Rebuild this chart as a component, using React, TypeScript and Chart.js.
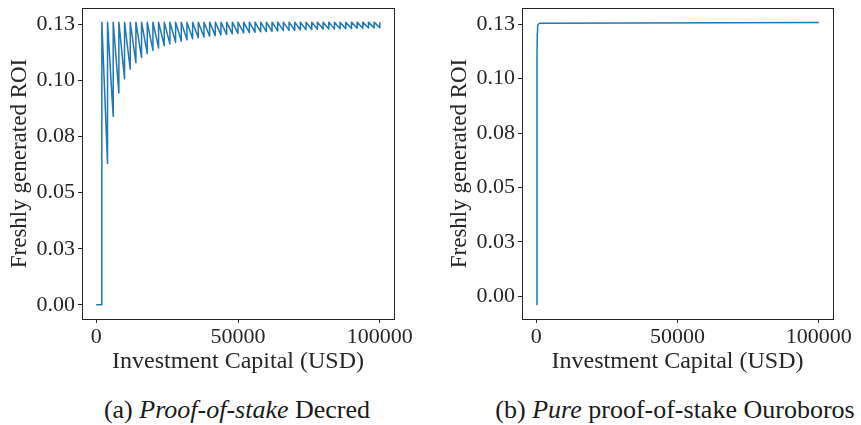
import React, { useEffect, useRef } from 'react';
import { Chart, registerables } from 'chart.js';

Chart.register(...registerables);

const FONT = "'Liberation Serif', 'Times New Roman', serif";

const xTicks = [0, 50000, 100000];
const xTickLabels = ['0', '50000', '100000'];
const yTicks = [0, 0.025, 0.05, 0.075, 0.1, 0.125];
const yTickLabels = ['0.00', '0.03', '0.05', '0.08', '0.10', '0.13'];

const xTitle = 'Investment Capital (USD)';
const yTitle = 'Freshly generated ROI';

// (a) Decred: capital levels at which one more ticket is bought
const decredTicketCapital = [
  2000, 4000, 6000, 8000, 10000, 12000, 14000, 16000, 18000, 20000,
  22000, 24000, 26000, 28000, 30000, 32000, 34000, 36000, 38000, 40000,
  42000, 44000, 46000, 48000, 50000, 52000, 54000, 56000, 58000, 60000,
  62000, 64000, 66000, 68000, 70000, 72000, 74000, 76000, 78000, 80000,
  82000, 84000, 86000, 88000, 90000, 92000, 94000, 96000, 98000, 100000,
];
const decredPeakROI = 0.126;
const decredStartROI = 0;
// ROI just before the next ticket threshold (bottom of each tooth)
const decredValleyROI = [
  0.063, 0.084, 0.0945, 0.1008, 0.105, 0.108, 0.1102, 0.112, 0.1134, 0.1145,
  0.1155, 0.1163, 0.117, 0.1176, 0.1181, 0.1186, 0.119, 0.1194, 0.1197, 0.12,
  0.1203, 0.1205, 0.1208, 0.121, 0.1212, 0.1213, 0.1215, 0.1217, 0.1218, 0.1219,
  0.1221, 0.1222, 0.1223, 0.1224, 0.1225, 0.1226, 0.1227, 0.1228, 0.1229, 0.1229,
  0.123, 0.1231, 0.1231, 0.1232, 0.1233, 0.1233, 0.1234, 0.1234, 0.1235,
];

// (b) Ouroboros
const ouroCapital = [200, 300, 400, 500, 700, 1200, 100000];
const ouroROI = [-0.004, 0.11, 0.121, 0.1238, 0.1249, 0.1255, 0.1258];

function buildDecred() {
  const pts: { x: number; y: number }[] = [];
  pts.push({ x: 0, y: decredStartROI });
  pts.push({ x: decredTicketCapital[0], y: decredStartROI });
  pts.push({ x: decredTicketCapital[0], y: decredPeakROI });
  for (let i = 1; i < decredTicketCapital.length; i++) {
    pts.push({ x: decredTicketCapital[i], y: decredValleyROI[i - 1] });
    pts.push({ x: decredTicketCapital[i], y: decredPeakROI });
  }
  return pts;
}

function buildOuro() {
  return ouroCapital.map((x, i) => ({ x, y: ouroROI[i] }));
}

const framePlugin = {
  id: 'frame',
  afterDraw(chart: any) {
    const { ctx, chartArea } = chart;
    ctx.save();
    ctx.strokeStyle = '#262626';
    ctx.lineWidth = 1;
    ctx.strokeRect(
      Math.round(chartArea.left) + 0.5,
      Math.round(chartArea.top) + 0.5,
      Math.round(chartArea.right - chartArea.left),
      Math.round(chartArea.bottom - chartArea.top)
    );
    ctx.restore();
  },
};

type PanelProps = {
  left: number;
  width: number;
  height: number;
  points: { x: number; y: number }[];
  yMin: number;
  yMax: number;
  yAxisWidth: number;
  padRight: number;
  yTitlePad: number;
};

function Panel(p: PanelProps) {
  const ref = useRef<HTMLCanvasElement>(null);
  useEffect(() => {
    if (!ref.current) return;
    const chart = new Chart(ref.current, {
      type: 'line',
      data: {
        datasets: [
          {
            data: p.points,
            borderColor: '#1f77b4',
            borderWidth: 1.5,
            pointRadius: 0,
            tension: 0,
            fill: false,
            borderJoinStyle: 'round',
          },
        ],
      },
      options: {
        responsive: false,
        animation: false,
        parsing: false,
        layout: { padding: { top: 8, right: p.padRight, left: 0, bottom: 0 } },
        plugins: { legend: { display: false }, tooltip: { enabled: false } },
        scales: {
          x: {
            type: 'linear',
            min: -5000,
            max: 105000,
            afterBuildTicks: (s: any) => {
              s.ticks = xTicks.map((v) => ({ value: v }));
            },
            afterFit: (s: any) => {
              s.height = 61;
              s.paddingLeft = 0;
              s.paddingRight = 0;
            },
            ticks: {
              autoSkip: false,
              maxRotation: 0,
              padding: 1,
              color: '#262626',
              font: { family: FONT, size: 22 },
              callback: (v: any) => xTickLabels[xTicks.indexOf(Number(v))],
            },
            grid: {
              display: true,
              drawOnChartArea: false,
              drawTicks: true,
              tickLength: 4,
              tickColor: '#262626',
            },
            border: { display: false },
            title: {
              display: true,
              text: xTitle,
              color: '#262626',
              font: { family: FONT, size: 24 },
              padding: { top: 0, bottom: 4 },
            },
          },
          y: {
            type: 'linear',
            min: p.yMin,
            max: p.yMax,
            afterBuildTicks: (s: any) => {
              s.ticks = yTicks.map((v) => ({ value: v }));
            },
            afterFit: (s: any) => {
              s.width = p.yAxisWidth;
              s.paddingTop = 0;
              s.paddingBottom = 0;
            },
            ticks: {
              autoSkip: false,
              padding: 3,
              color: '#262626',
              font: { family: FONT, size: 22 },
              callback: (v: any) => yTickLabels[yTicks.indexOf(Number(v))],
            },
            grid: {
              display: true,
              drawOnChartArea: false,
              drawTicks: true,
              tickLength: 4,
              tickColor: '#262626',
            },
            border: { display: false },
            title: {
              display: true,
              text: yTitle,
              color: '#262626',
              font: { family: FONT, size: 23 },
              padding: { top: p.yTitlePad, bottom: 0 },
            },
          },
        },
      },
      plugins: [framePlugin],
    } as any);
    return () => chart.destroy();
  }, []);
  return (
    <canvas
      ref={ref}
      width={p.width}
      height={p.height}
      style={{ position: 'absolute', left: p.left, top: 0, width: p.width, height: p.height, display: 'block' }}
    />
  );
}

export default function App() {
  const decred = buildDecred();
  const ouro = buildOuro();
  const capStyle: React.CSSProperties = {
    position: 'absolute',
    top: 395,
    height: 30,
    lineHeight: '30px',
    textAlign: 'center',
    fontFamily: FONT,
    fontSize: 26,
    color: '#1a1a1a',
    whiteSpace: 'nowrap',
  };
  return (
    <div style={{ position: 'absolute', left: 0, top: 0, width: 861, height: 425, background: '#fff', overflow: 'hidden' }}>
      <Panel left={0} width={430} height={380} points={decred} yMin={-0.0063} yMax={0.1323} yAxisWidth={82} padRight={36} yTitlePad={6} />
      <Panel left={430} width={431} height={380} points={ouro} yMin={-0.0105} yMax={0.1325} yAxisWidth={92} padRight={28} yTitlePad={16} />
      <div style={{ ...capStyle, left: 37, width: 400 }}>
        (a) <i>Proof-of-stake</i> Decred
      </div>
      <div style={{ ...capStyle, left: 475, width: 400 }}>
        (b) <i>Pure</i> proof-of-stake Ouroboros
      </div>
    </div>
  );
}
